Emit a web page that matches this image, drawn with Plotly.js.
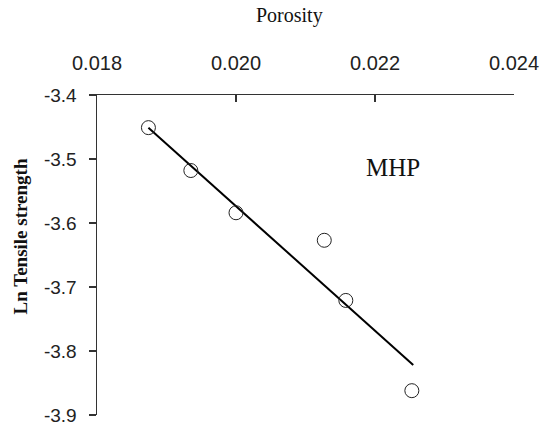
<!DOCTYPE html>
<html>
<head>
<meta charset="utf-8">
<script src="https://cdn.plot.ly/plotly-3.0.1.min.js"></script>
<style>html,body{margin:0;padding:0;background:#fff;}#chart{width:543px;height:432px;}</style>
</head>
<body>
<div id="chart"></div>
<script>
// Data
var porosity = [0.01874, 0.01935, 0.02000, 0.02127, 0.02158, 0.02253];
var lnTensile = [-3.451, -3.518, -3.584, -3.627, -3.721, -3.862];
var fitX = [0.01874, 0.02255];
var fitY = [-3.451, -3.822];
var xTickVals = [0.018, 0.020, 0.022, 0.024];
var xTickText = ["0.018", "0.020", "0.022", "0.024"];
var yTickVals = [-3.9, -3.8, -3.7, -3.6, -3.5, -3.4];
var yTickText = ["-3.9", "-3.8", "-3.7", "-3.6", "-3.5", "-3.4"];
var label = "MHP";

var traces = [
  {x: fitX, y: fitY, mode: 'lines', type: 'scatter',
   line: {color: '#000', width: 2}, hoverinfo: 'skip', showlegend: false},
  {x: porosity, y: lnTensile, mode: 'markers', type: 'scatter',
   marker: {symbol: 'circle-open', size: 14, color: '#222', line: {width: 1, color: '#222'}},
   showlegend: false}
];

var layout = {
  width: 543, height: 432,
  margin: {l: 97, r: 29, t: 95, b: 17},
  paper_bgcolor: '#fff', plot_bgcolor: '#fff',
  showlegend: false,
  xaxis: {
    side: 'top', range: [0.018, 0.024], tickvals: xTickVals, ticktext: xTickText,
    showline: true, linecolor: '#333', linewidth: 1.5, mirror: false,
    ticks: 'inside', ticklen: 7, tickcolor: '#333', tickwidth: 1.5,
    showgrid: false, zeroline: false, ticklabelstandoff: 16,
    tickfont: {family: 'Liberation Sans, Arial, sans-serif', size: 20, color: '#222'}
  },
  yaxis: {
    range: [-3.9, -3.4], tickvals: yTickVals, ticktext: yTickText,
    showline: true, linecolor: '#333', linewidth: 1.5, mirror: false,
    ticks: 'outside', ticklen: 7, tickcolor: '#333', tickwidth: 1.5,
    showgrid: false, zeroline: false, ticklabelstandoff: 8,
    tickfont: {family: 'Liberation Sans, Arial, sans-serif', size: 19, color: '#222'}
  },
  annotations: [
    {text: 'Porosity', xref: 'paper', yref: 'paper', x: 0.4616, y: 1.25,
     xanchor: 'center', yanchor: 'middle', showarrow: false,
     font: {family: 'Liberation Serif, Times New Roman, serif', size: 20, color: '#111'}},
    {text: '<b>Ln Tensile strength</b>', xref: 'paper', yref: 'paper', x: -0.1847, y: 0.558,
     xanchor: 'center', yanchor: 'middle', textangle: -90, showarrow: false,
     font: {family: 'Liberation Serif, Times New Roman, serif', size: 19, color: '#111'}},
    {text: label, xref: 'x', yref: 'y', x: 0.022252, y: -3.513,
     xanchor: 'center', yanchor: 'middle', showarrow: false,
     font: {family: 'Liberation Serif, Times New Roman, serif', size: 25, color: '#111'}}
  ]
};

Plotly.newPlot('chart', traces, layout, {displayModeBar: false, staticPlot: true});
</script>
</body>
</html>
